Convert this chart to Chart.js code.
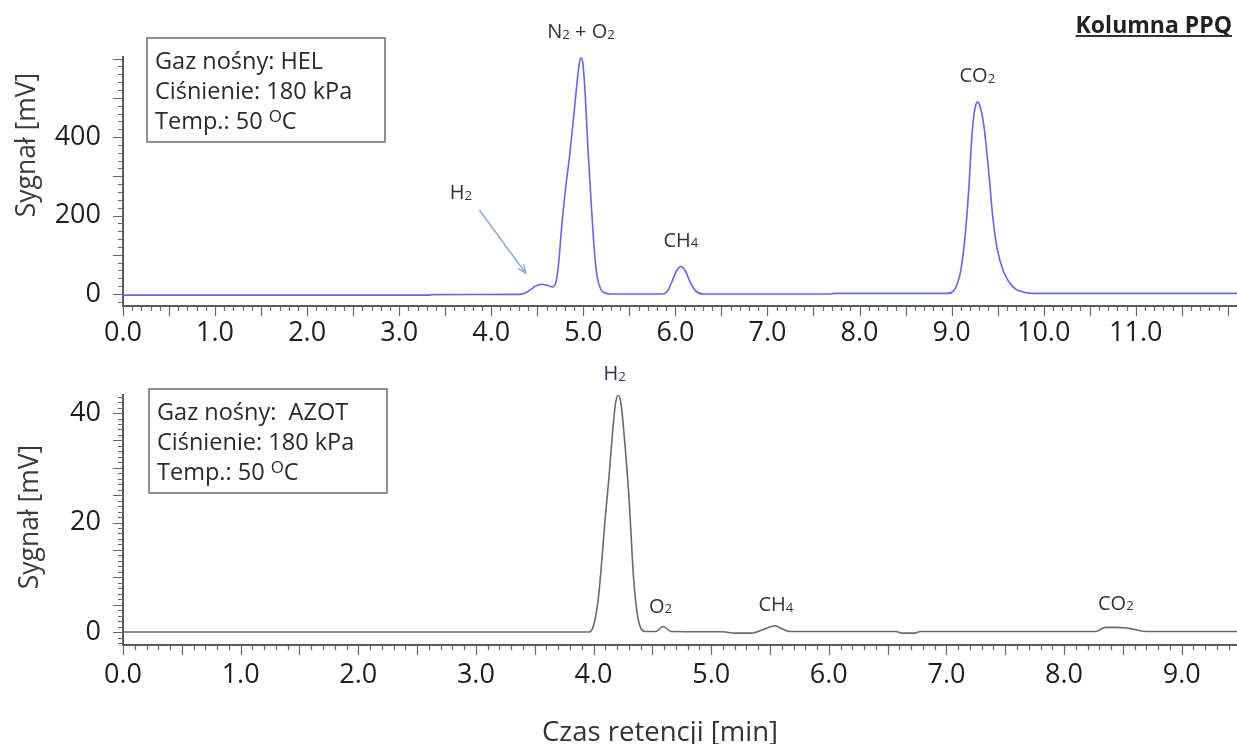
<!DOCTYPE html>
<html>
<head>
<meta charset="utf-8">
<script src="https://cdn.jsdelivr.net/npm/chart.js@4.4.1/dist/chart.umd.min.js"></script>
<style>
  html, body { margin: 0; padding: 0; background: #fff; }
  body { width: 1237px; height: 744px; position: relative; overflow: hidden; }
  .panel { position: absolute; left: 0; width: 1237px; }
  #topPanel { top: 0; height: 345px; }
  #bottomPanel { top: 345px; height: 399px; }
</style>
</head>
<body>
<div class="panel" id="topPanel"><canvas id="topChart"></canvas></div>
<div class="panel" id="bottomPanel"><canvas id="bottomChart"></canvas></div>
<script>
  const FONT = '"Open Sans", sans-serif';

  // carrier gas: helium (top trace), time [min] / signal [mV]
  const helTime = [0, 3.32, 3.36, 4.3, 4.36, 4.42, 4.48, 4.54, 4.6, 4.66, 4.7, 4.73, 4.77, 4.81, 4.85,
    4.89, 4.93, 4.955, 4.975, 4.995, 5.02, 5.05, 5.09, 5.12, 5.15, 5.19, 5.23, 5.3, 5.85, 5.91, 5.96,
    6.01, 6.06, 6.11, 6.16, 6.22, 6.3, 7.68, 7.72, 8.96, 9.02, 9.06, 9.1, 9.15, 9.19, 9.22, 9.25, 9.28,
    9.31, 9.35, 9.4, 9.45, 9.5, 9.56, 9.62, 9.7, 9.8, 9.9, 12.1];
  const helSignal = [-3, -3, -1.5, -1, 2, 10, 20, 25, 23, 18, 28, 75, 185, 275, 350, 440, 535, 585, 602,
    588, 510, 370, 214, 110, 45, 12, 3, 0, 0, 6, 30, 58, 70, 58, 30, 8, 0, 0, 1.5, 1.5, 8, 25, 60, 155,
    280, 400, 468, 489, 478, 430, 320, 190, 110, 60, 32, 12, 4, 1.5, 1.5];

  // carrier gas: nitrogen (bottom trace)
  const azotTime = [0, 3.96, 4.0, 4.04, 4.07, 4.1, 4.13, 4.16, 4.185, 4.21, 4.235, 4.26, 4.3, 4.34, 4.37,
    4.4, 4.44, 4.53, 4.59, 4.66, 5.1, 5.2, 5.34, 5.46, 5.54, 5.61, 5.67, 6.57, 6.62, 6.73, 6.78, 8.27,
    8.35, 8.45, 8.53, 8.6, 8.7, 9.47];
  const azotSignal = [0, 0, 1.2, 6, 13, 21, 28, 36, 41.5, 43.3, 41.5, 36, 25, 10, 3.5, 0.8, 0.1, 0.1,
    1.0, 0.1, 0.05, -0.2, -0.2, 0.6, 1.15, 0.5, 0.1, 0.1, -0.2, -0.2, 0.1, 0.1, 0.85, 0.85, 0.75, 0.45,
    0.1, 0.1];

  // tick labels
  const helXTicks = [0, 1, 2, 3, 4, 5, 6, 7, 8, 9, 10, 11];
  const helYTicks = [0, 200, 400];
  const azotXTicks = [0, 1, 2, 3, 4, 5, 6, 7, 8, 9];
  const azotYTicks = [0, 20, 40];

  // peak labels (name, retention time, height); "_" marks a subscript
  const helPeakNames = ['N_2 + O_2', 'CH_4', 'CO_2'];
  const helPeakTimes = [4.975, 6.06, 9.28];
  const helPeakHeights = [602, 70, 489];
  const azotPeakNames = ['H_2', 'O_2', 'CH_4', 'CO_2'];
  const azotPeakTimes = [4.18, 4.57, 5.55, 8.44];
  const azotPeakHeights = [43.3, 1.0, 1.15, 0.85];

  const helInfo = ['Gaz nośny: HEL', 'Ciśnienie: 180 kPa', 'Temp.: 50 ^OC'];
  const azotInfo = ['Gaz nośny:  AZOT', 'Ciśnienie: 180 kPa', 'Temp.: 50 ^OC'];

  function parseRich(str) {
    const parts = [];
    for (let i = 0; i < str.length; i++) {
      const c = str[i];
      if ((c === '_' || c === '^') && i + 1 < str.length) {
        parts.push({ t: str[i + 1], mode: c === '_' ? 'sub' : 'sup' });
        i++;
      } else if (parts.length && parts[parts.length - 1].mode === 'n') {
        parts[parts.length - 1].t += c;
      } else {
        parts.push({ t: c, mode: 'n' });
      }
    }
    return parts;
  }

  // draw text with sub/superscripts; y is the vertical centre of the capitals
  function drawRich(ctx, str, x, y, size, opts = {}) {
    const weight = opts.weight || 'normal';
    const parts = parseRich(str);
    const small = size * (opts.subScale || 0.66);
    const fontOf = p => `${weight} ${p.mode === 'n' ? size : (p.mode === 'sub' ? small : size * 0.72)}px ${FONT}`;
    let total = 0;
    parts.forEach(p => { ctx.font = fontOf(p); p.w = ctx.measureText(p.t).width; total += p.w; });
    let cx = x;
    if (opts.align === 'center') cx = x - total / 2;
    if (opts.align === 'right') cx = x - total;
    const base = y + size * 0.357;
    ctx.save();
    ctx.fillStyle = opts.color || '#333';
    ctx.textBaseline = 'alphabetic';
    ctx.textAlign = 'left';
    parts.forEach(p => {
      ctx.font = fontOf(p);
      let dy = 0;
      if (p.mode === 'sub') dy = size * 0.04;
      if (p.mode === 'sup') dy = -size * 0.3;
      ctx.fillText(p.t, cx, base + dy);
      cx += p.w;
    });
    ctx.restore();
    return { left: cx - total, right: cx };
  }

  function drawInfoBox(ctx, lines, left, top, width, height) {
    ctx.save();
    ctx.strokeStyle = '#6e6e6e';
    ctx.lineWidth = 1.5;
    ctx.strokeRect(left, top, width, height);
    ctx.restore();
    lines.forEach((line, i) => {
      drawRich(ctx, line, left + 8, top + 23 + i * 30, 23.5, { color: '#2a2a2a', subScale: 0.75 });
    });
  }

  function drawMinorTicks(chart, xStep, xLongEvery, yStep, yLongEvery) {
    const ctx = chart.ctx;
    const xs = chart.scales.x, ys = chart.scales.y;
    const area = chart.chartArea;
    ctx.save();
    ctx.strokeStyle = '#666';
    ctx.lineWidth = 1.2;
    ctx.beginPath();
    const nx = Math.floor(xs.max / xStep + 1e-6);
    for (let k = 0; k <= nx; k++) {
      const px = Math.round(xs.getPixelForValue(k * xStep)) + 0.5;
      const len = k % xLongEvery === 0 ? 10 : 5;
      ctx.moveTo(px, area.bottom);
      ctx.lineTo(px, area.bottom + len);
    }
    const k0 = Math.ceil(ys.min / yStep), k1 = Math.floor(ys.max / yStep);
    for (let k = k0; k <= k1; k++) {
      const py = Math.round(ys.getPixelForValue(k * yStep)) + 0.5;
      const len = k % yLongEvery === 0 ? 10 : 5;
      ctx.moveTo(area.left, py);
      ctx.lineTo(area.left - len, py);
    }
    ctx.stroke();
    ctx.restore();
  }

  function drawYTitle(ctx, cx, cy) {
    ctx.save();
    ctx.translate(cx, cy);
    ctx.rotate(-Math.PI / 2);
    ctx.font = `26.5px ${FONT}`;
    ctx.fillStyle = '#3a3a3a';
    ctx.textAlign = 'center';
    ctx.textBaseline = 'middle';
    ctx.fillText('Sygnał [mV]', 0, 0);
    ctx.restore();
  }

  function makeScales(xMax, xTicks, yMin, yMax, yTicks, xHeight, labelPad) {
    return {
      x: {
        type: 'linear', min: 0, max: xMax,
        afterBuildTicks: s => { s.ticks = xTicks.map(v => ({ value: v })); },
        afterFit: s => { s.height = xHeight; s.paddingLeft = 0; s.paddingRight = 0; },
        grid: { display: false },
        border: { display: true, color: '#5a5a5a', width: 2 },
        ticks: {
          autoSkip: false, maxRotation: 0, padding: labelPad,
          color: '#1e1e1e', font: { family: FONT, size: 27 },
          callback: v => Number(v).toFixed(1)
        }
      },
      y: {
        type: 'linear', min: yMin, max: yMax,
        afterBuildTicks: s => { s.ticks = yTicks.map(v => ({ value: v })); },
        afterFit: s => { s.width = 123; s.paddingTop = 0; s.paddingBottom = 0; },
        grid: { display: false },
        border: { display: true, color: '#5a5a5a', width: 2 },
        ticks: {
          autoSkip: false, padding: 14,
          color: '#1e1e1e', font: { family: FONT, size: 27 },
          callback: v => String(v)
        }
      }
    };
  }

  const commonOptions = {
    responsive: true,
    maintainAspectRatio: false,
    animation: false,
    events: [],
    plugins: { legend: { display: false }, tooltip: { enabled: false } }
  };

  const topDecor = {
    id: 'topDecor',
    afterDraw(chart) {
      const ctx = chart.ctx;
      const xs = chart.scales.x, ys = chart.scales.y;
      drawMinorTicks(chart, 0.1, 5, 20, 5);
      drawYTitle(ctx, 27, 145);
      drawInfoBox(ctx, helInfo, 147, 38, 238, 104);

      helPeakNames.forEach((name, i) => {
        const px = xs.getPixelForValue(helPeakTimes[i]);
        const py = ys.getPixelForValue(helPeakHeights[i]);
        drawRich(ctx, name, px, py - 27, 20, { align: 'center', color: '#333' });
      });

      // H2 shoulder with arrow
      drawRich(ctx, 'H_2', xs.getPixelForValue(3.67), ys.getPixelForValue(260), 20, { align: 'center', color: '#333' });
      const ax0 = xs.getPixelForValue(3.87), ay0 = ys.getPixelForValue(214);
      const ax1 = xs.getPixelForValue(4.375), ay1 = ys.getPixelForValue(53);
      const ang = Math.atan2(ay1 - ay0, ax1 - ax0);
      ctx.save();
      ctx.strokeStyle = '#8aaed0';
      ctx.lineWidth = 1.5;
      ctx.beginPath();
      ctx.moveTo(ax0, ay0);
      ctx.lineTo(ax1, ay1);
      ctx.moveTo(ax1 - 9 * Math.cos(ang - 0.4), ay1 - 9 * Math.sin(ang - 0.4));
      ctx.lineTo(ax1, ay1);
      ctx.lineTo(ax1 - 9 * Math.cos(ang + 0.4), ay1 - 9 * Math.sin(ang + 0.4));
      ctx.stroke();
      ctx.restore();

      // column name, bold + underlined
      const r = drawRich(ctx, 'Kolumna PPQ', 1232, 25, 23, { align: 'right', weight: 'bold', color: '#222' });
      ctx.save();
      ctx.strokeStyle = '#333';
      ctx.lineWidth = 1.8;
      ctx.beginPath();
      ctx.moveTo(r.left, 36);
      ctx.lineTo(r.right, 36);
      ctx.stroke();
      ctx.restore();
    }
  };

  const bottomDecor = {
    id: 'bottomDecor',
    afterDraw(chart) {
      const ctx = chart.ctx;
      const xs = chart.scales.x, ys = chart.scales.y;
      drawMinorTicks(chart, 0.1, 5, 1, 5);
      drawYTitle(ctx, 30, 172);
      drawInfoBox(ctx, azotInfo, 149, 44, 238, 104);

      const offsets = [22, 21, 22, 25];
      azotPeakNames.forEach((name, i) => {
        const px = xs.getPixelForValue(azotPeakTimes[i]);
        const py = ys.getPixelForValue(azotPeakHeights[i]);
        drawRich(ctx, name, px, py - offsets[i], 20, { align: 'center', color: i === 0 ? '#3a2d5c' : '#333' });
      });

      ctx.save();
      ctx.font = `27.5px ${FONT}`;
      ctx.fillStyle = '#333';
      ctx.textAlign = 'center';
      ctx.textBaseline = 'alphabetic';
      ctx.fillText('Czas retencji [min]', 660, 396);
      ctx.restore();
    }
  };

  new Chart(document.getElementById('topChart'), {
    type: 'line',
    data: {
      datasets: [{
        data: helTime.map((t, i) => ({ x: t, y: helSignal[i] })),
        borderColor: '#6464f2',
        borderWidth: 1.6,
        pointRadius: 0,
        cubicInterpolationMode: 'monotone',
        fill: false
      }]
    },
    options: {
      ...commonOptions,
      layout: { padding: { top: 57, right: 0, bottom: 0, left: 0 } },
      scales: makeScales(12.1, helXTicks, -30.6, 604, helYTicks, 39, 3)
    },
    plugins: [topDecor]
  });

  new Chart(document.getElementById('bottomChart'), {
    type: 'line',
    data: {
      datasets: [{
        data: azotTime.map((t, i) => ({ x: t, y: azotSignal[i] })),
        borderColor: '#6a6a6a',
        borderWidth: 1.6,
        pointRadius: 0,
        cubicInterpolationMode: 'monotone',
        fill: false
      }]
    },
    options: {
      ...commonOptions,
      layout: { padding: { top: 50, right: 0, bottom: 0, left: 0 } },
      scales: makeScales(9.47, azotXTicks, -2.37, 43.3, azotYTicks, 99, 6)
    },
    plugins: [bottomDecor]
  });
</script>
</body>
</html>
